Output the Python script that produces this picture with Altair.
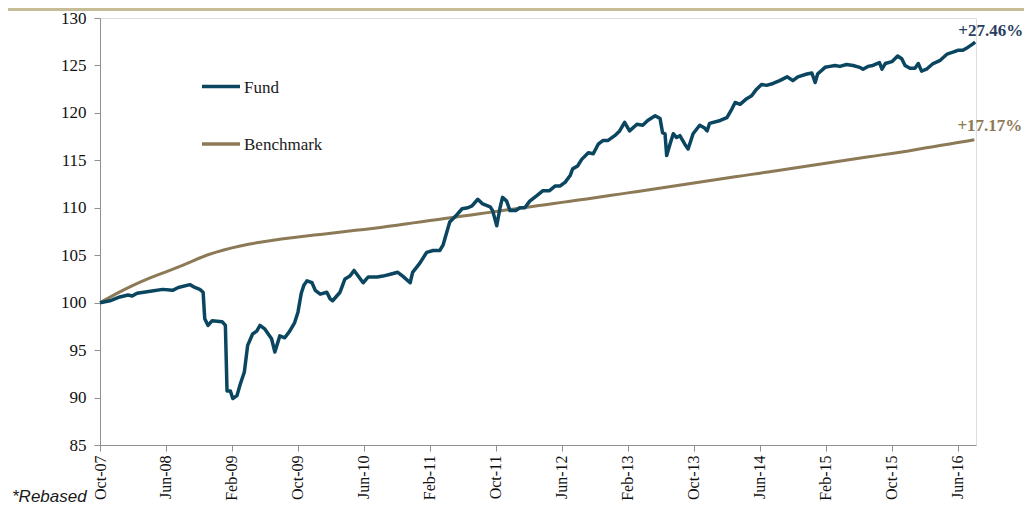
import altair as alt
import pandas as pd

# ---------------- data ----------------
x_labels = ["Oct-07", "Jun-08", "Feb-09", "Oct-09", "Jun-10", "Feb-11", "Oct-11",
            "Jun-12", "Feb-13", "Oct-13", "Jun-14", "Feb-15", "Oct-15", "Jun-16"]
x_ticks = [0, 8, 16, 24, 32, 40, 48, 56, 64, 72, 80, 88, 96, 104]   # months since Oct-07
y_ticks = [85, 90, 95, 100, 105, 110, 115, 120, 125, 130]

# Fund: months since Oct-07 and rebased value
fund_months = [
    0.0, 1.2, 2.4, 3.4, 3.9, 4.5, 6.1, 7.6, 8.8, 9.5, 10.9, 11.5, 12.1, 12.5, 12.7,
    13.1, 13.6, 14.8, 15.2, 15.4, 15.8, 16.1, 16.6, 17.0, 17.5, 17.9, 18.5, 19.0,
    19.4, 20.0, 20.8, 21.2, 21.8, 22.4, 23.0, 23.6, 24.0, 24.4, 24.7, 25.1, 25.7,
    26.1, 26.7, 27.5, 27.9, 28.2, 29.1, 29.7, 30.3, 30.8, 31.3, 31.9, 32.5, 33.6,
    34.3, 35.2, 36.1, 36.7, 37.6, 37.9, 38.8, 39.6, 40.4, 41.2, 41.6, 42.1, 42.4,
    43.3, 43.9, 44.6, 45.1, 45.8, 46.4, 47.3, 47.6, 48.1, 48.5, 48.8, 49.3, 49.7,
    50.4, 50.9, 51.5, 52.1, 53.0, 53.7, 54.5, 55.2, 55.8, 56.4, 57.0, 57.3, 57.9,
    58.4, 59.2, 59.8, 60.4, 61.0, 61.6, 62.4, 63.0, 63.6, 64.2, 65.1, 65.8, 66.4,
    67.3, 67.9, 68.2, 68.5, 68.7, 69.1, 69.5, 69.9, 70.3, 70.9, 71.3, 71.9, 72.7,
    73.3, 73.6, 73.9, 75.2, 76.0, 76.6, 77.0, 77.6, 78.4, 79.0, 79.6, 80.2, 80.8,
    81.6, 82.4, 83.3, 84.0, 84.6, 85.7, 86.3, 86.7, 87.0, 87.9, 88.5, 89.1, 89.7,
    90.5, 91.3, 92.1, 92.5, 93.1, 93.7, 94.5, 94.8, 95.2, 96.0, 96.7, 97.2, 97.6,
    98.2, 98.8, 99.2, 99.6, 100.2, 101.0, 101.8, 102.7, 103.4, 104.0, 104.6, 105.2,
    105.7, 106.1,
]
fund_values = [
    100.0, 100.2, 100.6, 100.8, 100.7, 101.0, 101.2, 101.4, 101.3, 101.6, 101.9, 101.6, 101.4, 101.1, 98.3,
    97.6, 98.1, 98.0, 97.6, 90.7, 90.7, 89.9, 90.2, 91.4, 92.7, 95.5, 96.7, 97.0,
    97.6, 97.2, 96.2, 94.8, 96.5, 96.3, 97.0, 97.9, 99.0, 101.0, 101.8, 102.3, 102.1,
    101.3, 100.9, 101.1, 100.4, 100.2, 101.1, 102.5, 102.8, 103.4, 102.8, 102.1, 102.7, 102.7,
    102.8, 103.0, 103.2, 102.8, 102.1, 103.2, 104.2, 105.3, 105.5, 105.5, 106.1, 107.6, 108.5,
    109.3, 109.9, 110.0, 110.2, 110.9, 110.4, 110.1, 109.7, 108.1, 110.0, 111.1, 110.7, 109.7,
    109.7, 110.0, 110.0, 110.7, 111.3, 111.8, 111.8, 112.3, 112.3, 112.7, 113.4, 114.1, 114.4,
    115.1, 115.8, 115.7, 116.7, 117.1, 117.1, 117.6, 118.1, 119.0, 118.1, 118.8, 118.7, 119.2,
    119.7, 119.4, 117.9, 117.8, 115.5, 116.7, 117.8, 117.4, 117.6, 116.7, 116.2, 117.8, 118.7,
    118.4, 118.1, 118.9, 119.2, 119.5, 120.4, 121.1, 120.9, 121.5, 121.8, 122.5, 123.0, 122.9,
    123.1, 123.4, 123.8, 123.4, 123.8, 124.1, 124.2, 123.2, 124.1, 124.8, 124.9, 125.0, 124.9,
    125.1, 125.0, 124.8, 124.6, 124.9, 125.0, 125.3, 124.6, 125.2, 125.4, 126.0, 125.7, 125.0,
    124.7, 124.7, 125.2, 124.4, 124.6, 125.2, 125.5, 126.2, 126.4, 126.6, 126.6, 126.9,
    127.2, 127.46,
]

# Benchmark: monthly values, Oct-07 .. Aug-16
bench_values = [
    100.00, 100.48, 100.95, 101.40, 101.83, 102.22, 102.58, 102.92, 103.25, 103.58,
    103.93, 104.30, 104.68, 105.02, 105.30, 105.55, 105.77, 105.97, 106.15, 106.31,
    106.45, 106.58, 106.70, 106.81, 106.92, 107.02, 107.12, 107.22, 107.32, 107.42,
    107.52, 107.62, 107.72, 107.82, 107.93,
    108.05, 108.17, 108.29, 108.41, 108.53, 108.65, 108.77, 108.89, 109.01, 109.13,
    109.25, 109.37, 109.49, 109.61, 109.73, 109.85, 109.97, 110.09, 110.21, 110.33,
    110.45, 110.57, 110.69, 110.81, 110.93, 111.05,
    111.18, 111.31, 111.44, 111.57, 111.70, 111.83, 111.96, 112.09, 112.22, 112.35,
    112.48, 112.61, 112.74, 112.87, 113.00, 113.13, 113.26, 113.39, 113.52, 113.65,
    113.78, 113.91, 114.04, 114.17, 114.30, 114.43, 114.56, 114.69, 114.82, 114.95,
    115.08, 115.21, 115.34, 115.47, 115.60, 115.73, 115.86, 115.99, 116.14, 116.29,
    116.43, 116.58, 116.73, 116.88, 117.02, 117.17,
]
bench_months = list(range(len(bench_values)))

series_names = ["Fund", "Benchmark"]
end_labels = ["+27.46%", "+17.17%"]
note_text = "*Rebased"

# ---------------- styling ----------------
FUND_C = "#0b4660"
BENCH_C = "#8c7a57"
FUND_LBL_C = "#2a3e62"
BAR_C = "#c6bd97"
AXIS_C = "#8f8f8f"
SERIF = "Liberation Serif"

fund_df = pd.DataFrame({"month": fund_months, "value": fund_values})
bench_df = pd.DataFrame({"month": bench_months, "value": bench_values})

label_expr = "[" + ",".join(f"'{s}'" for s in x_labels) + "][round(datum.value/8)]"

x_scale = alt.Scale(domain=[0, 106.2], nice=False, zero=False)
y_scale = alt.Scale(domain=[85, 130], nice=False, zero=False)

x_axis = alt.Axis(values=x_ticks, labelExpr=label_expr, labelAngle=-90, title=None,
                  labelFont=SERIF, labelFontSize=16, labelColor="#111", labelPadding=4,
                  tickSize=6, labelFlush=False, labelOverlap=False, grid=False,
                  domainColor=AXIS_C, tickColor=AXIS_C)
y_axis = alt.Axis(values=y_ticks, title=None, labelFont=SERIF, labelFontSize=17,
                  labelColor="#111", labelPadding=8, tickSize=6, grid=False,
                  domainColor=AXIS_C, tickColor=AXIS_C, labelFlush=False)

X = alt.X("month:Q", scale=x_scale, axis=x_axis)
Y = alt.Y("value:Q", scale=y_scale, axis=y_axis)

bench_line = alt.Chart(bench_df).mark_line(color=BENCH_C, strokeWidth=3).encode(x=X, y=Y)
fund_line = alt.Chart(fund_df).mark_line(color=FUND_C, strokeWidth=3.5,
                                         strokeJoin="round").encode(x=X, y=Y)

fund_end = fund_df.tail(1).assign(label=end_labels[0])
bench_end = bench_df.tail(1).assign(label=end_labels[1])

fund_lbl = alt.Chart(fund_end).mark_text(
    align="right", baseline="middle", dx=48, dy=-11, font=SERIF, fontSize=17,
    fontWeight="bold", color=FUND_LBL_C).encode(x=X, y=Y, text="label:N")
bench_lbl = alt.Chart(bench_end).mark_text(
    align="right", baseline="middle", dx=48, dy=-14, font=SERIF, fontSize=17,
    fontWeight="bold", color=BENCH_C).encode(x=X, y=Y, text="label:N")

one = pd.DataFrame({"a": [0]})

# legend (drawn manually, positions in pixels)
legend_layers = []
for name, col, ypix in [(series_names[0], FUND_C, 68.5), (series_names[1], BENCH_C, 126)]:
    legend_layers.append(
        alt.Chart(one).mark_rule(color=col, strokeWidth=3.5).encode(
            x=alt.value(102), x2=alt.value(140), y=alt.value(ypix)))
    legend_layers.append(
        alt.Chart(one).mark_text(align="left", baseline="middle", font=SERIF,
                                 fontSize=17, color="#1a1a1a", text=name).encode(
            x=alt.value(144), y=alt.value(ypix + 1)))

# header bar at top
header = alt.Chart(one).mark_rect(color=BAR_C).encode(
    x=alt.value(-92), x2=alt.value(924), y=alt.value(-20), y2=alt.value(-7))

note = alt.Chart(one).mark_text(align="left", baseline="alphabetic", font="Liberation Sans",
                                fontSize=17, fontStyle="italic", color="#1a1a1a",
                                text=note_text).encode(
    x=alt.value(-88), y=alt.value(484))

chart = alt.layer(
    header, bench_line, fund_line, fund_lbl, bench_lbl, note, *legend_layers
).properties(
    width=876, height=427,
    padding={"left": 92, "top": 10, "right": 48, "bottom": 63},
    autosize=alt.AutoSizeParams(type="none"),
).configure_view(stroke=None).configure(background="white")

chart.save("out.html", embed_options={"renderer": "svg", "actions": False})
